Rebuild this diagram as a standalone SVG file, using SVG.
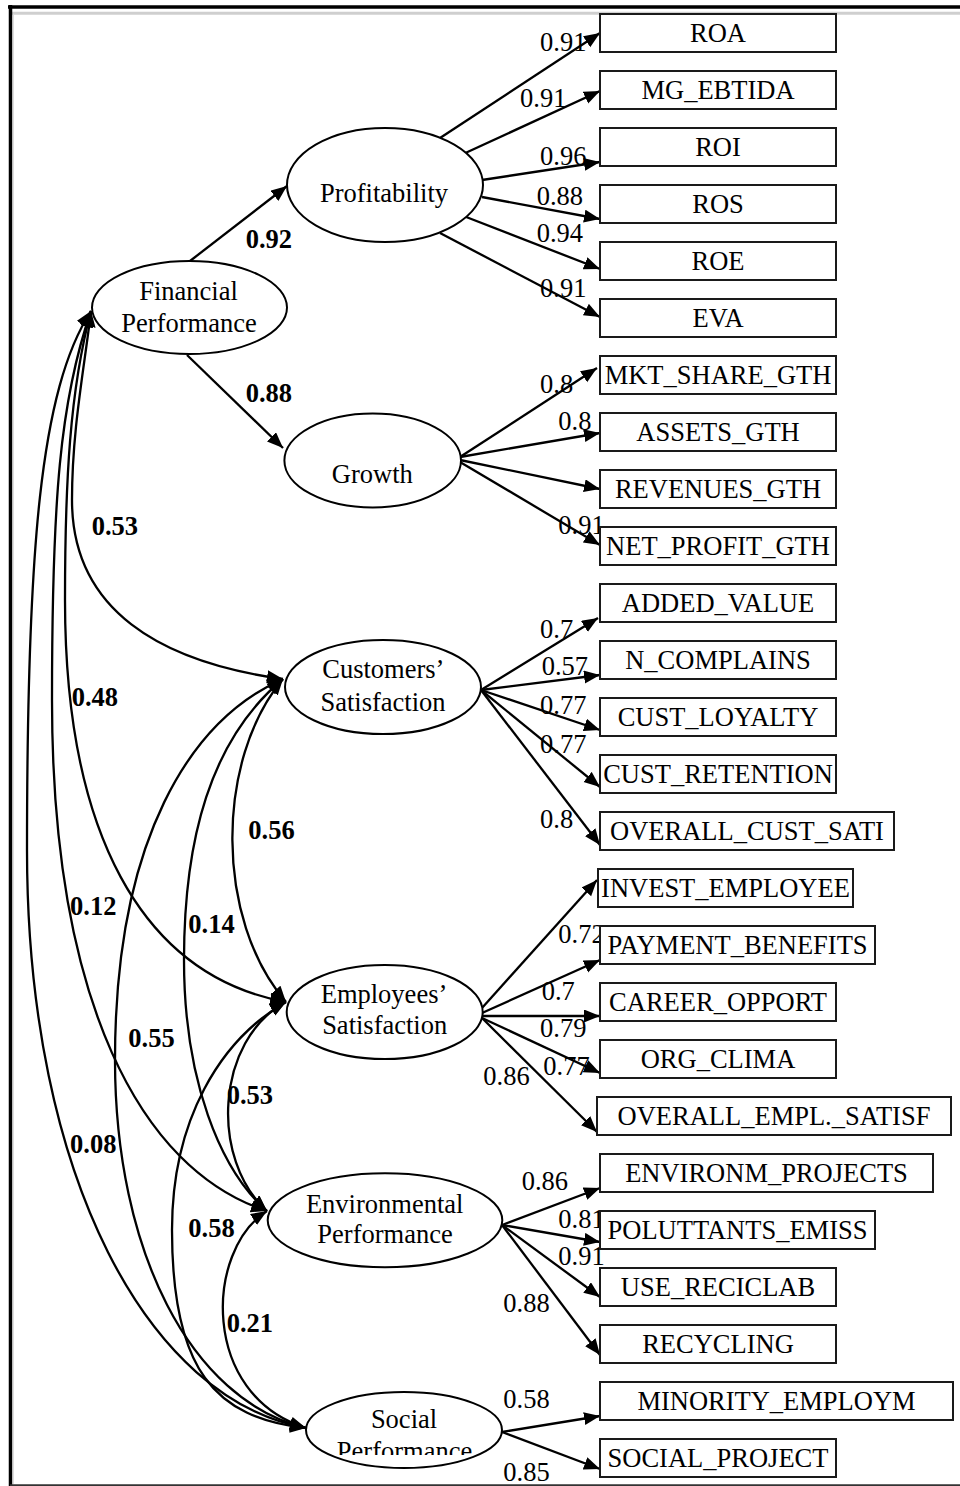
<svg xmlns="http://www.w3.org/2000/svg" width="960" height="1486" viewBox="0 0 960 1486">
<style>
.t{font-family:"Liberation Serif","Times New Roman",serif;font-size:26.5px;fill:#000}
.b{font-weight:bold}
.m{text-anchor:middle}
.box{fill:#fff;stroke:#1a1a1a;stroke-width:2}
.ell{fill:#fff;stroke:#000;stroke-width:2}
.ln{stroke:#000;stroke-width:2.3;fill:none;marker-end:url(#ah)}
.cv{stroke:#000;stroke-width:2.3;fill:none;marker-start:url(#ah);marker-end:url(#ah)}
</style>
<defs>
<marker id="ah" markerUnits="userSpaceOnUse" markerWidth="18" markerHeight="14" refX="16" refY="6.5" orient="auto-start-reverse">
<path d="M0,0 L16,6.5 L0,13 z" fill="#000"/>
</marker>
<clipPath id="socclip"><rect x="300" y="1380" width="220" height="75"/></clipPath>
</defs>
<rect x="0" y="0" width="960" height="1486" fill="#fff"/>
<g id="frame">
<line x1="8" y1="7" x2="960" y2="7" stroke="#000" stroke-width="3.5"/>
<line x1="12" y1="13.3" x2="960" y2="13.3" stroke="#cfcfcf" stroke-width="3"/>
<line x1="10.5" y1="5" x2="10.5" y2="1486" stroke="#000" stroke-width="3.5"/>
<line x1="13" y1="15" x2="13" y2="1484" stroke="#bbb" stroke-width="1"/>
<line x1="10" y1="1485.2" x2="960" y2="1485.2" stroke="#333" stroke-width="2"/>
</g>

<g id="connectors">
<line class="ln" x1="190" y1="261" x2="287" y2="186"/>
<line class="ln" x1="187" y1="355" x2="283" y2="448"/>
<line class="ln" x1="440" y1="138" x2="600" y2="33"/>
<line class="ln" x1="461" y1="155" x2="600" y2="91"/>
<line class="ln" x1="482" y1="180" x2="600" y2="162"/>
<line class="ln" x1="482" y1="197" x2="600" y2="219"/>
<line class="ln" x1="461" y1="215" x2="600" y2="269"/>
<line class="ln" x1="440" y1="233" x2="600" y2="317"/>
<line class="ln" x1="460" y1="457" x2="597" y2="368"/>
<line class="ln" x1="460" y1="457" x2="600" y2="433"/>
<line class="ln" x1="460" y1="460" x2="600" y2="489"/>
<line class="ln" x1="460" y1="462" x2="600" y2="545"/>
<line class="ln" x1="481" y1="690" x2="598" y2="618"/>
<line class="ln" x1="481" y1="690" x2="600" y2="675"/>
<line class="ln" x1="481" y1="690" x2="600" y2="730"/>
<line class="ln" x1="481" y1="690" x2="600" y2="787"/>
<line class="ln" x1="481" y1="690" x2="600" y2="845"/>
<line class="ln" x1="482" y1="1008" x2="597" y2="880"/>
<line class="ln" x1="482" y1="1013" x2="600" y2="960"/>
<line class="ln" x1="482" y1="1016" x2="600" y2="1016"/>
<line class="ln" x1="482" y1="1018" x2="600" y2="1073"/>
<line class="ln" x1="482" y1="1018" x2="597" y2="1132"/>
<line class="ln" x1="502" y1="1225" x2="600" y2="1188"/>
<line class="ln" x1="502" y1="1225" x2="600" y2="1242"/>
<line class="ln" x1="502" y1="1225" x2="600" y2="1297"/>
<line class="ln" x1="502" y1="1225" x2="600" y2="1355"/>
<line class="ln" x1="502" y1="1432" x2="600" y2="1416"/>
<line class="ln" x1="502" y1="1432" x2="600" y2="1469"/>

<path class="cv" d="M91,311 C84,370 72,430 72,500 C72,610 160,662 283,679"/>
<path class="cv" d="M91,311 C70,390 65,480 65,600 C65,830 140,975 286,1002"/>
<path class="cv" d="M91,311 C60,400 52,500 52,700 C52,1000 140,1170 267,1211"/>
<path class="cv" d="M91,311 C40,390 27,550 27,850 C27,1180 150,1400 306,1428"/>
<path class="cv" d="M283,679 C215,760 215,920 286,1002"/>
<path class="cv" d="M283,679 C210,740 184,840 184,960 C184,1080 220,1170 267,1211"/>
<path class="cv" d="M283,679 C190,720 115,840 115,1060 C115,1250 190,1400 306,1428"/>
<path class="cv" d="M286,1002 C215,1040 210,1160 267,1211"/>
<path class="cv" d="M286,1002 C220,1040 172,1120 172,1230 C172,1370 215,1418 306,1428"/>
<path class="cv" d="M267,1211 C205,1250 200,1395 306,1428"/>

<g class="t b">
<text x="245.7" y="248.3">0.92</text>
<text x="245.7" y="401.7">0.88</text>
<text x="91.7" y="535">0.53</text>
<text x="71.7" y="706">0.48</text>
<text x="248.3" y="839.3">0.56</text>
<text x="70" y="915">0.12</text>
<text x="188.3" y="933.3">0.14</text>
<text x="128.3" y="1046.7">0.55</text>
<text x="226.7" y="1104.3">0.53</text>
<text x="70" y="1152.7">0.08</text>
<text x="188.3" y="1236.7">0.58</text>
<text x="226.7" y="1331.7">0.21</text>
</g>
<g class="t">
<text x="540" y="50.5">0.91</text>
<text x="520" y="107.3">0.91</text>
<text x="540" y="165">0.96</text>
<text x="536.7" y="205">0.88</text>
<text x="536.7" y="242.3">0.94</text>
<text x="540" y="296.7">0.91</text>
<text x="540" y="392.7">0.8</text>
<text x="558.3" y="430">0.8</text>
<text x="558.3" y="534.3">0.91</text>
<text x="540" y="637.7">0.7</text>
<text x="541.7" y="675">0.57</text>
<text x="540" y="714">0.77</text>
<text x="540" y="753.3">0.77</text>
<text x="540" y="828.3">0.8</text>
<text x="558.3" y="943.3">0.72</text>
<text x="541.7" y="1000">0.7</text>
<text x="540" y="1036.7">0.79</text>
<text x="543.3" y="1075">0.77</text>
<text x="483.3" y="1085">0.86</text>
<text x="521.7" y="1190">0.86</text>
<text x="558.3" y="1228.3">0.81</text>
<text x="558.3" y="1265">0.91</text>
<text x="503.3" y="1312.3">0.88</text>
<text x="503.3" y="1408.3">0.58</text>
<text x="503.3" y="1481">0.85</text>
</g>
</g>

<g id="financial"><ellipse class="ell" cx="189.5" cy="307.5" rx="97.5" ry="46.5"/><text class="t m" x="188.5" y="300">Financial</text><text class="t m" x="189" y="331.7">Performance</text></g>
<g id="profitability"><ellipse class="ell" cx="385" cy="185" rx="98" ry="57"/><text class="t m" x="384" y="201.7">Profitability</text></g>
<g id="growth"><ellipse class="ell" cx="372.7" cy="460.5" rx="88.3" ry="47"/><text class="t m" x="372.3" y="482.7">Growth</text></g>
<g id="customers"><ellipse class="ell" cx="383" cy="687" rx="98" ry="47"/><text class="t m" x="383.3" y="678.3">Customers’</text><text class="t m" x="383" y="710.7">Satisfaction</text></g>
<g id="employees"><ellipse class="ell" cx="384.7" cy="1012" rx="98" ry="47"/><text class="t m" x="384" y="1002.7">Employees’</text><text class="t m" x="384.7" y="1034">Satisfaction</text></g>
<g id="environmental"><ellipse class="ell" cx="385" cy="1220.3" rx="117.3" ry="47"/><text class="t m" x="384.7" y="1213.3">Environmental</text><text class="t m" x="385" y="1243.3">Performance</text></g>
<g id="social"><ellipse class="ell" cx="404" cy="1430" rx="98" ry="38"/><text class="t m" x="404" y="1428.3">Social</text><text class="t m" x="404.5" y="1460" clip-path="url(#socclip)">Performance</text></g>

<g id="ROA"><rect class="box" x="600" y="14" width="236" height="38"/><text class="t m" x="718" y="42">ROA</text></g>
<g id="MG_EBTIDA"><rect class="box" x="600" y="71" width="236" height="38"/><text class="t m" x="718" y="99">MG_EBTIDA</text></g>
<g id="ROI"><rect class="box" x="600" y="128" width="236" height="38"/><text class="t m" x="718" y="156">ROI</text></g>
<g id="ROS"><rect class="box" x="600" y="185" width="236" height="38"/><text class="t m" x="718" y="213">ROS</text></g>
<g id="ROE"><rect class="box" x="600" y="242" width="236" height="38"/><text class="t m" x="718" y="270">ROE</text></g>
<g id="EVA"><rect class="box" x="600" y="299" width="236" height="38"/><text class="t m" x="718" y="327">EVA</text></g>
<g id="MKT_SHARE_GTH"><rect class="box" x="600" y="356" width="236" height="38"/><text class="t m" x="718" y="384">MKT_SHARE_GTH</text></g>
<g id="ASSETS_GTH"><rect class="box" x="600" y="413" width="236" height="38"/><text class="t m" x="718" y="441">ASSETS_GTH</text></g>
<g id="REVENUES_GTH"><rect class="box" x="600" y="470" width="236" height="38"/><text class="t m" x="718" y="498">REVENUES_GTH</text></g>
<g id="NET_PROFIT_GTH"><rect class="box" x="600" y="527" width="236" height="38"/><text class="t m" x="718" y="555">NET_PROFIT_GTH</text></g>
<g id="ADDED_VALUE"><rect class="box" x="600" y="584" width="236" height="38"/><text class="t m" x="718" y="612">ADDED_VALUE</text></g>
<g id="N_COMPLAINS"><rect class="box" x="600" y="641" width="236" height="38"/><text class="t m" x="718" y="669">N_COMPLAINS</text></g>
<g id="CUST_LOYALTY"><rect class="box" x="600" y="698" width="236" height="38"/><text class="t m" x="718" y="726">CUST_LOYALTY</text></g>
<g id="CUST_RETENTION"><rect class="box" x="600" y="755" width="236" height="38"/><text class="t m" x="718" y="783">CUST_RETENTION</text></g>
<g id="OVERALL_CUST_SATI"><rect class="box" x="600" y="812" width="294" height="38"/><text class="t m" x="747" y="840">OVERALL_CUST_SATI</text></g>
<g id="INVEST_EMPLOYEE"><rect class="box" x="598" y="869" width="255" height="38"/><text class="t m" x="725.5" y="897">INVEST_EMPLOYEE</text></g>
<g id="PAYMENT_BENEFITS"><rect class="box" x="600" y="926" width="275" height="38"/><text class="t m" x="737.5" y="954">PAYMENT_BENEFITS</text></g>
<g id="CAREER_OPPORT"><rect class="box" x="600" y="983" width="236" height="38"/><text class="t m" x="718" y="1011">CAREER_OPPORT</text></g>
<g id="ORG_CLIMA"><rect class="box" x="600" y="1040" width="236" height="38"/><text class="t m" x="718" y="1068">ORG_CLIMA</text></g>
<g id="OVERALL_EMPL_SATISF"><rect class="box" x="597" y="1097" width="354" height="38"/><text class="t m" x="774" y="1125">OVERALL_EMPL._SATISF</text></g>
<g id="ENVIRONM_PROJECTS"><rect class="box" x="600" y="1154" width="333" height="38"/><text class="t m" x="766.5" y="1182">ENVIRONM_PROJECTS</text></g>
<g id="POLUTTANTS_EMISS"><rect class="box" x="600" y="1211" width="275" height="38"/><text class="t m" x="737.5" y="1239">POLUTTANTS_EMISS</text></g>
<g id="USE_RECICLAB"><rect class="box" x="600" y="1268" width="236" height="38"/><text class="t m" x="718" y="1296">USE_RECICLAB</text></g>
<g id="RECYCLING"><rect class="box" x="600" y="1325" width="236" height="38"/><text class="t m" x="718" y="1353">RECYCLING</text></g>
<g id="MINORITY_EMPLOYM"><rect class="box" x="600" y="1382" width="353" height="38"/><text class="t m" x="776.5" y="1410">MINORITY_EMPLOYM</text></g>
<g id="SOCIAL_PROJECT"><rect class="box" x="600" y="1439" width="236" height="38"/><text class="t m" x="718" y="1467">SOCIAL_PROJECT</text></g>
</svg>
